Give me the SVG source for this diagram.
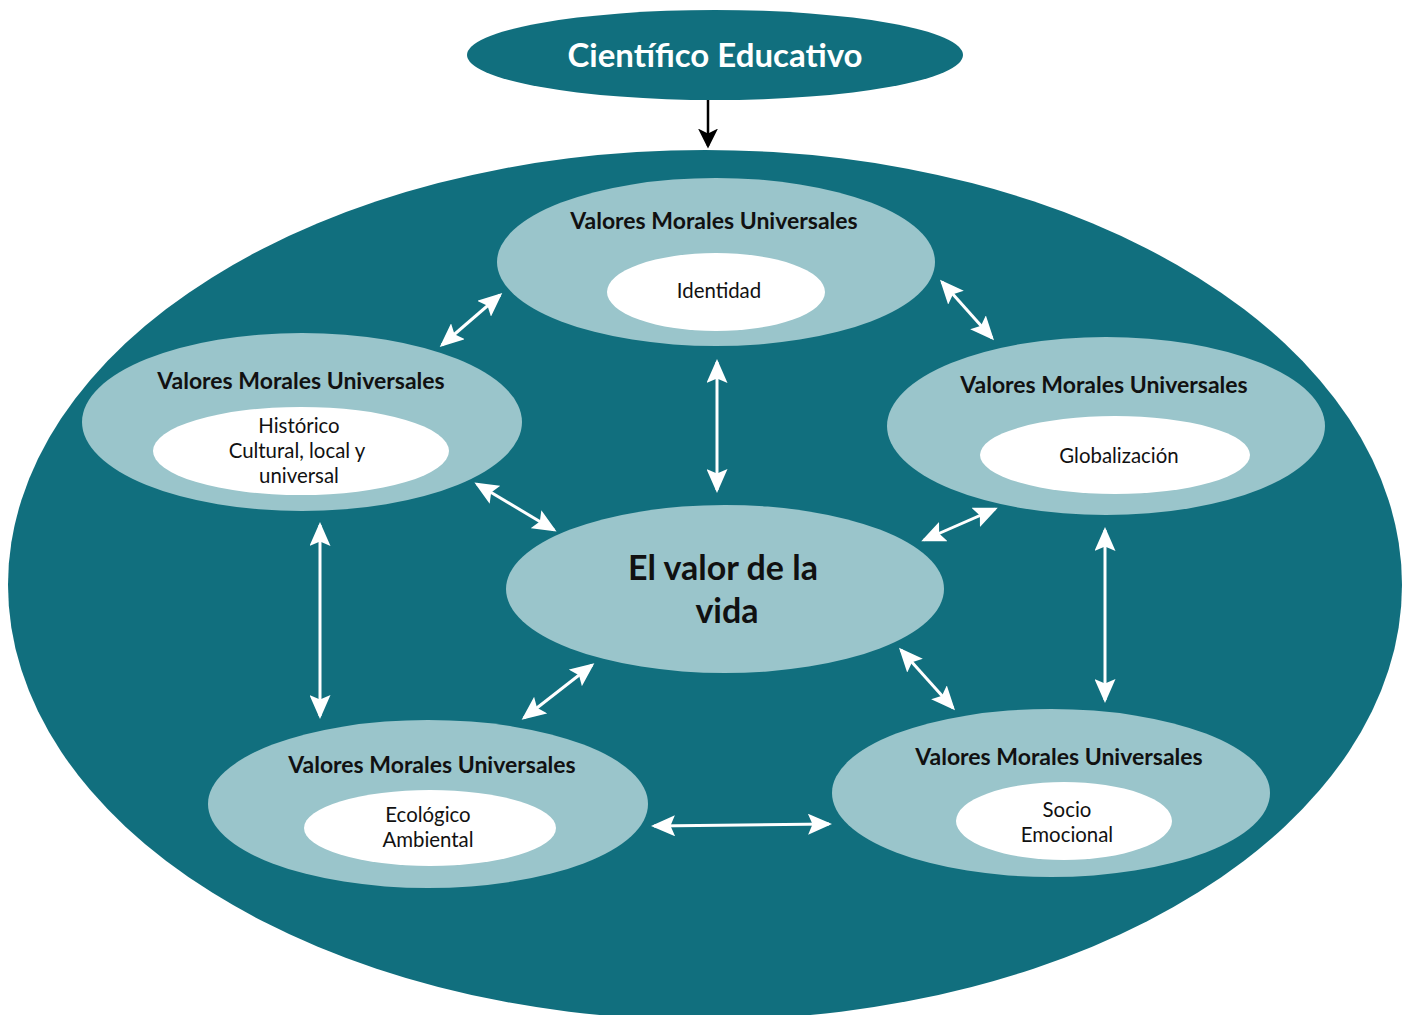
<svg xmlns="http://www.w3.org/2000/svg" width="1402" height="1015" viewBox="0 0 1402 1015">
<defs>
<style>
.dark{fill:#116f7e}
.light{fill:#9ac5cb}
.inner{fill:#ffffff}
.t{font-family:Lato,"Open Sans","Liberation Sans",sans-serif;text-anchor:middle;fill:#111}
.title{font-size:23px;font-weight:bold}
.sub{font-size:20.4px}
.wa{stroke:#ffffff;stroke-width:3;fill:none;marker-start:url(#ws);marker-end:url(#we)}
</style>
<marker id="we" markerWidth="8" markerHeight="7" refX="7" refY="3.5" orient="auto" markerUnits="strokeWidth"><path d="M0,0 L8,3.5 L0,7 L1.5,3.5 Z" fill="#ffffff"/></marker>
<marker id="ws" markerWidth="8" markerHeight="7" refX="1" refY="3.5" orient="auto" markerUnits="strokeWidth"><path d="M8,0 L0,3.5 L8,7 L6.5,3.5 Z" fill="#ffffff"/></marker>
<marker id="be" markerWidth="8" markerHeight="8" refX="7" refY="4" orient="auto" markerUnits="strokeWidth"><path d="M0,0 L8,4 L0,8 L2,4 Z" fill="#000"/></marker>
</defs>
<rect width="1402" height="1015" fill="#ffffff"/>
<g id="top-node">
<ellipse class="dark" cx="715" cy="55" rx="248" ry="45"/>
<text class="t" x="715" y="67" font-size="33" font-weight="bold" style="fill:#ffffff">Científico Educativo</text>
</g>
<g id="outer">
<ellipse class="dark" cx="705" cy="585" rx="697" ry="435"/>
</g>
<g id="connectors">
<line x1="708" y1="100" x2="708" y2="146" stroke="#000" stroke-width="2.5" marker-end="url(#be)"/>
<line class="wa" x1="442" y1="345" x2="500" y2="295"/>
<line class="wa" x1="942" y1="282" x2="992" y2="338"/>
<line class="wa" x1="717" y1="362" x2="717" y2="490"/>
<line class="wa" x1="477" y1="484" x2="554" y2="530"/>
<line class="wa" x1="924" y1="540" x2="995" y2="509"/>
<line class="wa" x1="320" y1="525" x2="320" y2="716"/>
<line class="wa" x1="1105" y1="530" x2="1105" y2="700"/>
<line class="wa" x1="524" y1="718" x2="592" y2="665"/>
<line class="wa" x1="901" y1="650" x2="953" y2="708"/>
<line class="wa" x1="654" y1="826" x2="829" y2="824"/>
</g>
<g id="node-identidad">
<ellipse class="light" cx="716" cy="262" rx="219" ry="84"/>
<text class="t title" x="714" y="229">Valores Morales Universales</text>
<ellipse class="inner" cx="716" cy="292" rx="109" ry="39"/>
<text class="t sub" x="719" y="298">Identidad</text>
</g>
<g id="node-historico">
<ellipse class="light" cx="302" cy="422" rx="220" ry="89"/>
<text class="t title" x="301" y="389">Valores Morales Universales</text>
<ellipse class="inner" cx="301" cy="451" rx="148" ry="44"/>
<text class="t sub" x="299" y="433">Histórico</text>
<text class="t sub" x="297" y="458">Cultural, local y</text>
<text class="t sub" x="299" y="483">universal</text>
</g>
<g id="node-globalizacion">
<ellipse class="light" cx="1106" cy="426" rx="219" ry="89"/>
<text class="t title" x="1104" y="393">Valores Morales Universales</text>
<ellipse class="inner" cx="1115" cy="455" rx="135" ry="39"/>
<text class="t sub" x="1119" y="463">Globalización</text>
</g>
<g id="node-center">
<ellipse class="light" cx="725" cy="589" rx="219" ry="84"/>
<text class="t" x="723" y="580" font-size="34" font-weight="bold">El valor de la</text>
<text class="t" x="727" y="623" font-size="34" font-weight="bold">vida</text>
</g>
<g id="node-ecologico">
<ellipse class="light" cx="428" cy="804" rx="220" ry="84"/>
<text class="t title" x="432" y="773">Valores Morales Universales</text>
<ellipse class="inner" cx="430" cy="828" rx="126" ry="38"/>
<text class="t sub" x="428" y="822">Ecológico</text>
<text class="t sub" x="428" y="847">Ambiental</text>
</g>
<g id="node-socio">
<ellipse class="light" cx="1051" cy="793" rx="219" ry="84"/>
<text class="t title" x="1059" y="765">Valores Morales Universales</text>
<ellipse class="inner" cx="1064" cy="821" rx="108" ry="39"/>
<text class="t sub" x="1067" y="817">Socio</text>
<text class="t sub" x="1067" y="842">Emocional</text>
</g>
</svg>
